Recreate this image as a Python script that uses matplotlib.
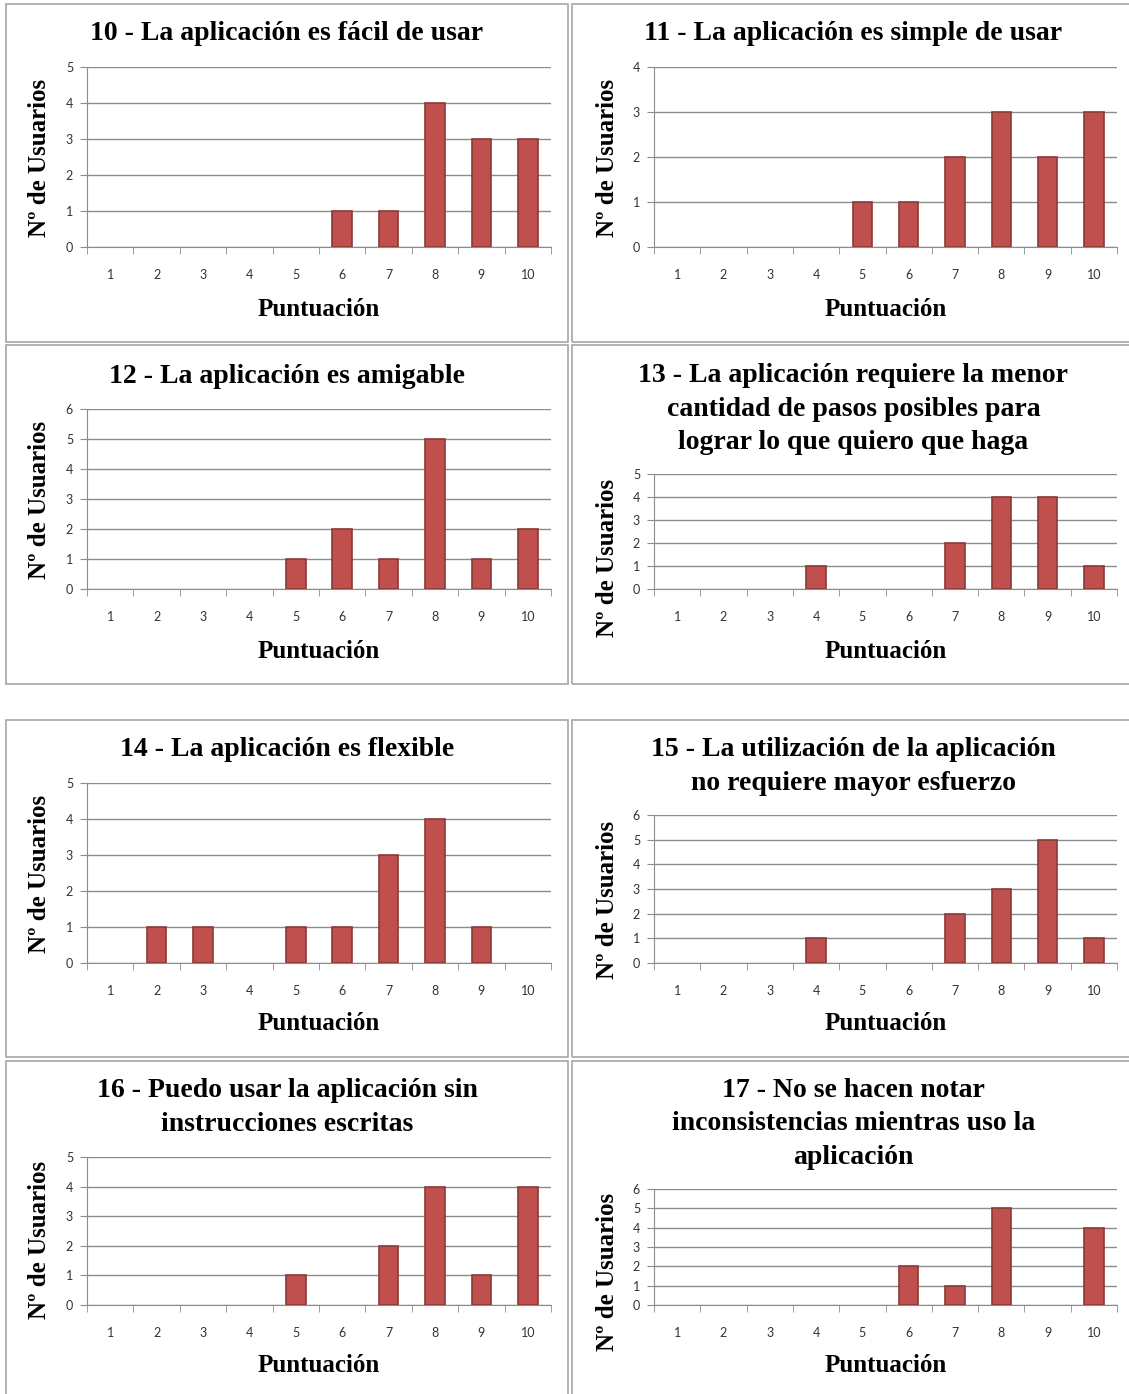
import matplotlib.pyplot as plt
from matplotlib.patches import Rectangle

# datos de la encuesta (puntuación 1..10 -> nº de usuarios)
scores = list(range(1, 11))
score_labels = [str(s) for s in scores]

titles = [
    "10 - La aplicación es fácil de usar",
    "11 - La aplicación es simple de usar",
    "12 - La aplicación es amigable",
    "13 - La aplicación requiere la menor\ncantidad de pasos posibles para\nlograr lo que quiero que haga",
    "14 - La aplicación es flexible",
    "15 - La utilización de la aplicación\nno requiere mayor esfuerzo",
    "16 - Puedo usar la aplicación sin\ninstrucciones escritas",
    "17 - No se hacen notar\ninconsistencias mientras uso la\naplicación",
]

counts_10 = [0, 0, 0, 0, 0, 1, 1, 4, 3, 3]
counts_11 = [0, 0, 0, 0, 1, 1, 2, 3, 2, 3]
counts_12 = [0, 0, 0, 0, 1, 2, 1, 5, 1, 2]
counts_13 = [0, 0, 0, 1, 0, 0, 2, 4, 4, 1]
counts_14 = [0, 1, 1, 0, 1, 1, 3, 4, 1, 0]
counts_15 = [0, 0, 0, 1, 0, 0, 2, 3, 5, 1]
counts_16 = [0, 0, 0, 0, 1, 0, 2, 4, 1, 4]
counts_17 = [0, 0, 0, 0, 0, 2, 1, 5, 0, 4]
all_counts = [counts_10, counts_11, counts_12, counts_13,
              counts_14, counts_15, counts_16, counts_17]
y_max = [5, 4, 6, 5, 5, 6, 5, 6]

# layout en pixeles: (ax_top, ax_bottom, title_y, ylabel_y, xlabel_y)
layout = [
    (67, 247, 34, 158, 309),
    (67, 247, 34, 158, 309),
    (409, 589, 376, 500, 651),
    (474, 589, 376, 558, 651),
    (783, 963, 750, 874, 1024),
    (815, 963, 750, 900, 1024),
    (1157, 1305, 1091, 1240, 1366),
    (1189, 1305, 1091, 1272, 1366),
]
panel_rows = [(4, 342), (345, 684), (720, 1057), (1061, 1420)]
panel_cols = [(6, 568), (572, 1140)]
ax_cols = [(87, 551), (654, 1117)]
ylab_x = [40, 607]

W, H = 1129, 1394
BAR = "#C0504D"
EDGE = "#8B3A38"
GRID = "#8C8C8C"
SERIF = "Liberation Serif"


def fx(x):
    return x / W


def fy(y):
    return 1 - y / H


fig = plt.figure(figsize=(W / 100, H / 100), dpi=100)
fig.patch.set_facecolor("white")

for i in range(8):
    row, col = divmod(i, 2)
    top, bot, ty, yly, xly = layout[i]
    px0, px1 = panel_cols[col]
    py0, py1 = panel_rows[row]
    fig.add_artist(Rectangle((fx(px0), fy(py1)), (px1 - px0) / W, (py1 - py0) / H,
                             transform=fig.transFigure, fill=False,
                             edgecolor="#A6A6A6", lw=1.2))

    x0, x1 = ax_cols[col]
    ax = fig.add_axes([fx(x0), fy(bot), (x1 - x0) / W, (bot - top) / H])
    counts = all_counts[i]
    # sin borde en las barras vacías
    lws = [1.2 if c else 0 for c in counts]
    ax.bar(scores, counts, width=0.42, color=BAR, edgecolor=EDGE,
           linewidth=lws, zorder=3)
    ax.set_xlim(0.5, 10.5)
    ax.set_ylim(0, y_max[i])
    ax.set_yticks(range(0, y_max[i] + 1))
    ax.yaxis.grid(True, color=GRID, lw=1, zorder=0)
    ax.set_axisbelow(True)
    ax.set_xticks(scores)
    ax.set_xticklabels(score_labels)
    ax.set_xticks([s + 0.5 for s in range(0, 11)], minor=True)
    ax.tick_params(axis="x", which="major", length=0, pad=16,
                   labelsize=9, labelcolor="#333333")
    ax.tick_params(axis="x", which="minor", length=5, color=GRID, direction="out")
    ax.tick_params(axis="y", length=5, color=GRID, pad=5,
                   labelsize=9, labelcolor="#333333")
    for lab in ax.get_xticklabels() + ax.get_yticklabels():
        lab.set_family("Lato")
    for s in ("top", "right"):
        ax.spines[s].set_visible(False)
    ax.spines["left"].set_color(GRID)
    ax.spines["bottom"].set_color(GRID)

    cx = (px0 + min(px1, 1135)) / 2
    n_lines = titles[i].count("\n") + 1
    fig.text(fx(cx), fy(ty + 16.5 * (n_lines - 1)), titles[i], ha="center", va="center",
             family=SERIF, weight="bold", fontsize=20, linespacing=1.44)
    fig.text(fx(ylab_x[col]), fy(yly), "Nº de Usuarios", rotation=90,
             ha="center", va="center", family=SERIF, weight="bold", fontsize=18)
    fig.text(fx((x0 + x1) / 2), fy(xly), "Puntuación", ha="center", va="center",
             family=SERIF, weight="bold", fontsize=18)

fig.savefig("out.png", dpi=100)
